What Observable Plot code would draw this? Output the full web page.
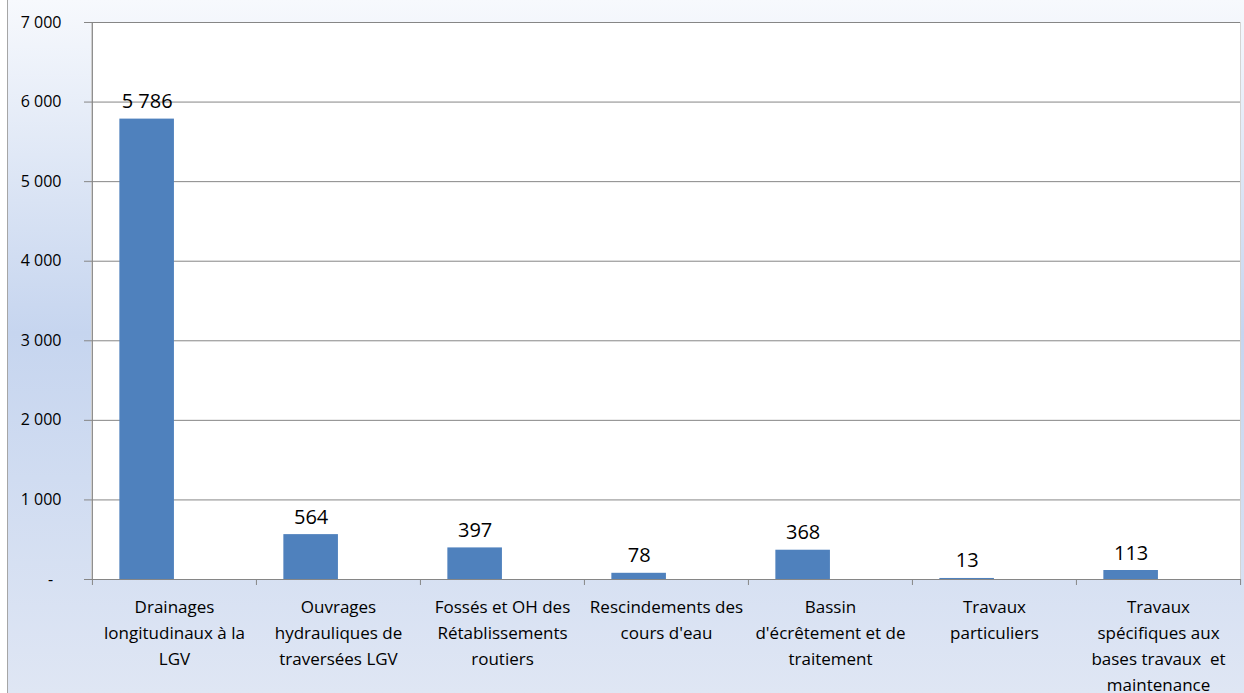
<!DOCTYPE html>
<html><head><meta charset="utf-8">
<script src="https://cdn.jsdelivr.net/npm/d3@7"></script>
<script src="https://cdn.jsdelivr.net/npm/@observablehq/plot@0.6"></script>
<style>
body{margin:0;background:#fff;}
#wrap{position:relative;width:1244px;height:693px;overflow:hidden;background:#fff;}
#bg{position:absolute;left:7px;top:0;width:1237px;height:693px;border-left:1px solid #a6a6a6;
background:linear-gradient(to bottom,#f7f9fd 0%,#d9e3f4 29%,#c6d5ef 48%,#d0dcf1 69%,#dfe6f4 100%);}
#chart{position:absolute;left:0;top:0;}
</style></head><body>
<div id="wrap"><div id="bg"></div><div id="chart"></div></div>
<script>
const categories = [
  "Drainages longitudinaux à la LGV",
  "Ouvrages hydrauliques de traversées LGV",
  "Fossés et OH des Rétablissements routiers",
  "Rescindements des cours d'eau",
  "Bassin d'écrêtement et de traitement",
  "Travaux particuliers",
  "Travaux spécifiques aux bases travaux et maintenance"
];
const categoryLabels = [
  "Drainages\nlongitudinaux à la\nLGV",
  "Ouvrages\nhydrauliques de\ntraversées LGV",
  "Fossés et OH des\nRétablissements\nroutiers",
  "Rescindements des\ncours d'eau",
  "Bassin\nd'écrêtement et de\ntraitement",
  "Travaux\nparticuliers",
  "Travaux\nspécifiques aux\nbases travaux  et\nmaintenance"
];
const values = [5786, 564, 397, 78, 368, 13, 113];
const yTicks = [0, 1000, 2000, 3000, 4000, 5000, 6000, 7000];

const W = 1244, H = 693, mL = 91, mR = 4, mT = 22, mB = 114;
const bw = (W - mL - mR) / categories.length;
const data = categories.map((c, i) => ({category: c, label: categoryLabels[i], value: values[i]}));
const fmt = d => d === 0 ? "-\u00a0\u00a0" : d3.format(",")(d).replace(/,/g, " ");
const gray = "#868686";

const chart = Plot.plot({
  width: W, height: H, marginLeft: mL, marginRight: mR, marginTop: mT, marginBottom: mB,
  style: {background: "transparent", fontFamily: "'Open Sans', sans-serif", color: "#000"},
  x: {domain: categories, padding: 0, axis: null},
  y: {domain: [0, 7000], axis: null},
  marks: [
    Plot.frame({fill: "white", stroke: "#d4d4d4"}),
    Plot.gridY(yTicks.slice(1), {stroke: gray, strokeOpacity: 1}),
    Plot.axisY(yTicks, {tickSize: 7, tickPadding: 23, tickFormat: fmt, fontSize: 16, stroke: gray, fill: "#000", label: null}),
    Plot.ruleX([categories[0]], {dx: -bw / 2, stroke: gray}),
    Plot.ruleY([0], {stroke: gray}),
    Plot.axisX(categories, {tickSize: 6, tickFormat: () => "", dx: -bw / 2, stroke: gray, label: null}),
    Plot.axisX([categories[categories.length - 1]], {tickSize: 6, tickFormat: () => "", dx: bw / 2, stroke: gray, label: null}),
    Plot.barY(data, {x: "category", y: "value", fill: "#4f81bd", insetLeft: bw / 6, insetRight: bw / 2}),
    Plot.text(data, {x: "category", y: "value", text: d => fmt(d.value), dx: -bw / 6, dy: -11,
      lineAnchor: "bottom", fontSize: 20, fill: "#000"}),
    Plot.text(data, {x: "category", text: "label", frameAnchor: "bottom", lineAnchor: "top",
      dy: 15, fontSize: 17, lineHeight: 1.53, fill: "#000"})
  ]
});
document.getElementById("chart").append(chart);
</script>
</body></html>
